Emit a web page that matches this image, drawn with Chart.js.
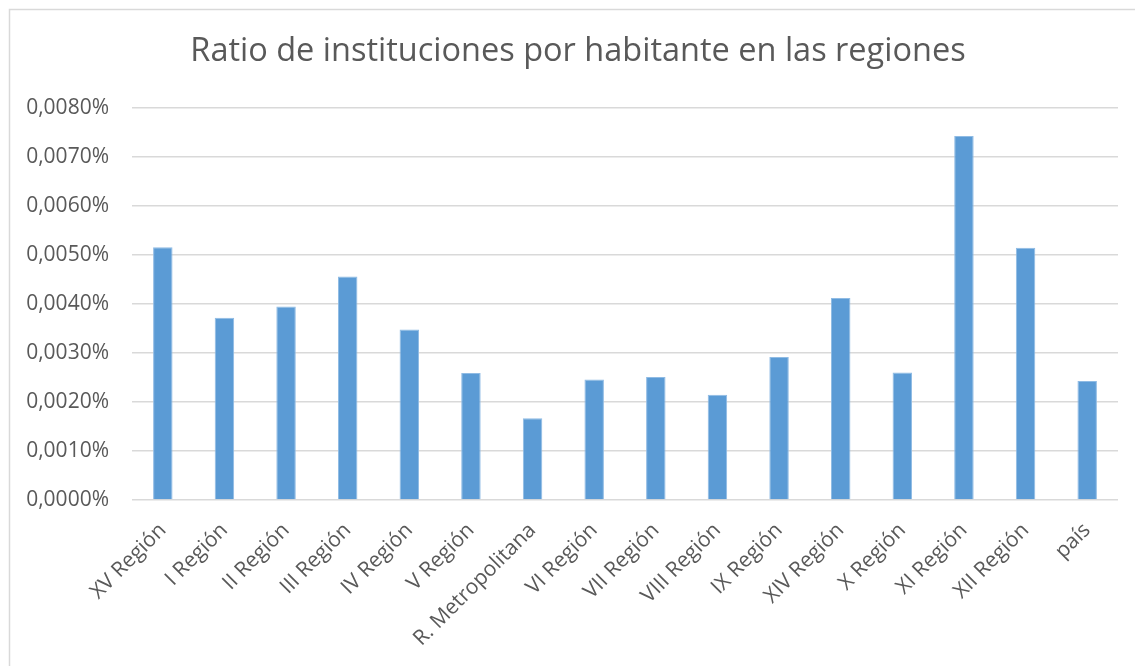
<!DOCTYPE html>
<html>
<head>
<meta charset="utf-8">
<script src="https://cdn.jsdelivr.net/npm/chart.js@4.4.0/dist/chart.umd.min.js"></script>
<style>
  html, body { margin: 0; padding: 0; background: #ffffff; overflow: hidden; }
  #wrap { width: 1135px; height: 666px; position: relative; }
</style>
</head>
<body>
<div id="wrap"><canvas id="ratioChart" width="1135" height="666"></canvas></div>
<script>
// categories
const regiones = ["XV Región", "I Región", "II Región", "III Región", "IV Región", "V Región",
    "R. Metropolitana", "VI Región", "VII Región", "VIII Región", "IX Región", "XIV Región",
    "X Región", "XI Región", "XII Región", "país"]
// ratio in percent (0.0052 means 0,0052%)
const ratios = [0.00516, 0.00372, 0.00395, 0.00456, 0.00348, 0.00259,
    0.00167, 0.00246, 0.00251, 0.00215, 0.00292, 0.00412,
    0.00260, 0.00743, 0.00515, 0.00243]
// y axis ticks
const yTicks = [0, 0.001, 0.002, 0.003, 0.004, 0.005, 0.006, 0.007, 0.008]
const chartTitle = "Ratio de instituciones por habitante en las regiones"

const textColor = "#595959"
const gridColor = "#d9d9d9"

// light frame round the chart, like the spreadsheet chart object
const outerBorder = {
    id: 'outerBorder',
    beforeDraw(chart) {
        const { ctx } = chart
        ctx.save()
        ctx.fillStyle = '#ffffff'
        ctx.fillRect(0, 0, chart.width, chart.height)
        ctx.strokeStyle = gridColor
        ctx.lineWidth = 1.5
        ctx.strokeRect(9.5, 9.5, 1400, 900)
        ctx.restore()
    }
}

// title centred on the whole frame, not on the padded box
const frameTitle = {
    id: 'frameTitle',
    afterDraw(chart) {
        const { ctx } = chart
        ctx.save()
        ctx.font = "32.5px 'Open Sans'"
        ctx.fillStyle = textColor
        ctx.textAlign = 'center'
        ctx.textBaseline = 'middle'
        ctx.fillText(chartTitle, (chart.width + 21) / 2, 52)
        ctx.restore()
    }
}

const config = {
    type: "bar",
    data: {
        labels: regiones,
        datasets: [
            {
                label: "Ratio",
                data: ratios,
                backgroundColor: "#5b9bd5",
                borderColor: "#8fbbe4",
                borderWidth: { top: 1, left: 1, right: 1, bottom: 0 },
                categoryPercentage: 1,
                barPercentage: 0.316
            }
        ]
    },
    options: {
        responsive: false,
        animation: false,
        layout: { padding: { left: 0, right: 17, top: 108, bottom: 0 } },
        plugins: {
            legend: { display: false },
            tooltip: { enabled: false },
            title: { display: false }
        },
        scales: {
            x: {
                grid: { display: false, drawTicks: false },
                border: { display: false },
                ticks: {
                    color: textColor,
                    font: { family: "'Open Sans'", size: 21 },
                    minRotation: 45,
                    maxRotation: 45,
                    autoSkip: false,
                    padding: 18
                },
                afterFit(scale) { scale.height = 166 }
            },
            y: {
                min: 0,
                max: 0.008,
                grid: { color: gridColor, lineWidth: 1.5, drawTicks: false },
                border: { display: false },
                afterBuildTicks(scale) { scale.ticks = yTicks.map(v => ({ value: v })) },
                ticks: {
                    color: textColor,
                    font: { family: "'Open Sans'", size: 21 },
                    padding: 23,
                    callback: v => v.toFixed(4).replace(".", ",") + "%"
                },
                afterFit(scale) { scale.width = 132 }
            }
        }
    },
    plugins: [outerBorder, frameTitle]
}

const ratioChart = new Chart(document.getElementById("ratioChart"), config)
</script>
</body>
</html>
